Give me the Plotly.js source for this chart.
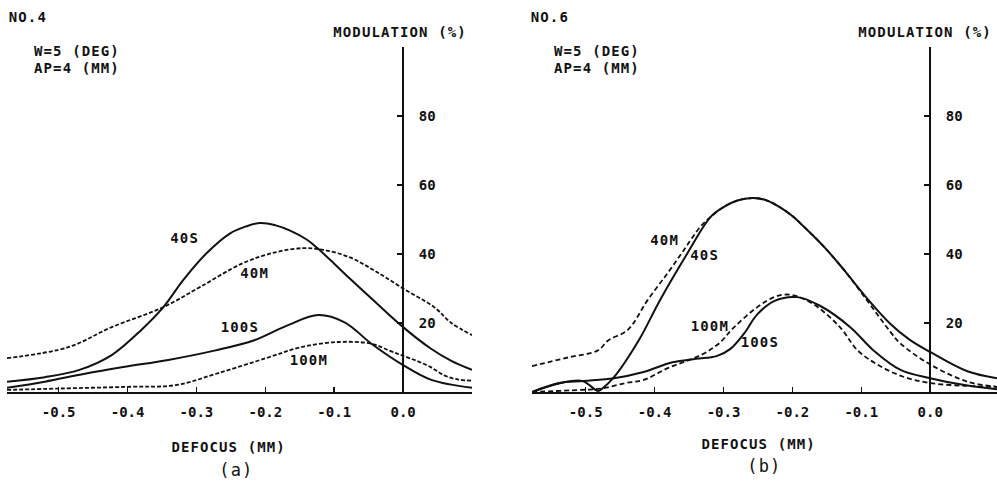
<!DOCTYPE html>
<html>
<head>
<meta charset="utf-8">
<script src="https://cdn.plot.ly/plotly-3.0.1.min.js"></script>
<style>
html,body{margin:0;padding:0;background:#fff;}
#chart{width:997px;height:483px;}
#chart .annotation-text{letter-spacing:1.1px;}
</style>
</head>
<body>
<div id="chart"></div>
<script>
// ---- Data ----
const xTickVals = [-0.5, -0.4, -0.3, -0.2, -0.1, 0.0];
const xTickText = ['-0.5', '-0.4', '-0.3', '-0.2', '-0.1', '0.0'];
const yTickVals = [20, 40, 60, 80];
const yTickText = ['20', '40', '60', '80'];

// Panel (a) NO.4
const a40S_x = [-0.575, -0.52, -0.47, -0.423, -0.38, -0.348, -0.319, -0.285, -0.251, -0.228, -0.207, -0.185, -0.164, -0.14, -0.125, -0.1, -0.077, -0.04, 0, 0.04, 0.07, 0.1];
const a40S_y = [3, 4.3, 6.4, 10.7, 18, 24.6, 32.5, 40.3, 46, 48, 49, 48.3, 46.8, 44.2, 41.8, 37.2, 32.8, 26, 18.8, 12.6, 9, 6.4];
const a40M_x = [-0.575, -0.486, -0.423, -0.348, -0.295, -0.232, -0.183, -0.145, -0.116, -0.077, -0.04, 0, 0.045, 0.07, 0.1];
const a40M_y = [9.8, 13, 18.8, 24.6, 30.4, 37.4, 40.6, 41.7, 41.2, 39, 35, 30, 24.6, 20, 16.5];
const a100S_x = [-0.575, -0.52, -0.462, -0.404, -0.341, -0.274, -0.216, -0.167, -0.123, -0.085, -0.046, 0, 0.041, 0.1];
const a100S_y = [1.2, 3, 5.3, 7.3, 9.3, 12, 15, 19.4, 22.3, 20.2, 14, 7.8, 3.5, 1.2];
const a100M_x = [-0.575, -0.5, -0.4, -0.33, -0.268, -0.196, -0.148, -0.094, -0.046, -0.02, 0, 0.02, 0.04, 0.06, 0.08, 0.1];
const a100M_y = [0.6, 1, 1.5, 2, 5.5, 10, 13, 14.5, 14, 12, 10.5, 9, 7.2, 4.8, 3.6, 3.3];

// Panel (b) NO.6
const b40S_x = [-0.578, -0.54, -0.505, -0.482, -0.476, -0.459, -0.423, -0.392, -0.353, -0.319, -0.3, -0.28, -0.258, -0.24, -0.222, -0.2, -0.189, -0.155, -0.126, -0.097, -0.058, -0.03, 0, 0.054, 0.097];
const b40S_y = [0, 2.4, 3.2, 0.3, 1, 4.3, 15, 26.7, 40, 50.7, 53.6, 55.5, 56.2, 55.7, 54, 51, 49, 42.3, 35.6, 28.4, 19.8, 15.2, 11.6, 6, 4];
const b40M_x = [-0.578, -0.526, -0.483, -0.467, -0.439, -0.41, -0.381, -0.358, -0.334, -0.319, -0.3, -0.28, -0.258, -0.24, -0.222, -0.2, -0.189, -0.155, -0.126, -0.097, -0.058, -0.044, 0, 0.054, 0.097];
const b40M_y = [7.5, 10, 12, 15, 18, 26.7, 34.5, 41, 47.8, 50.7, 53.6, 55.5, 56.2, 55.7, 54, 51, 49, 42.3, 35.6, 28, 17.5, 14.2, 8, 3, 1.5];
const b100S_x = [-0.578, -0.539, -0.503, -0.459, -0.416, -0.374, -0.34, -0.31, -0.29, -0.27, -0.251, -0.225, -0.193, -0.16, -0.116, -0.083, -0.043, 0, 0.05, 0.097];
const b100S_y = [0, 2.6, 3.2, 4, 5.8, 8.6, 9.6, 10.4, 12.5, 17, 22.5, 26.5, 27.5, 25, 18.8, 12.2, 6.4, 4, 2, 0.8];
const b100M_x = [-0.578, -0.52, -0.478, -0.442, -0.416, -0.38, -0.333, -0.307, -0.286, -0.251, -0.225, -0.203, -0.17, -0.131, -0.106, -0.077, -0.04, 0, 0.05, 0.097];
const b100M_y = [0, 0.5, 1, 2.6, 3.5, 7, 10.7, 14, 18.5, 24.6, 27.6, 28.2, 25.5, 18.8, 12.2, 8, 4.5, 2.6, 1.8, 1.5];

// ---- Styling ----
const FONT = 'DejaVu Sans Mono, Liberation Mono, monospace';
const W = 997, H = 483;
const px = v => v / W;
const py = v => 1 - v / H;

function line(x, y, xa, ya, dashed, dashPat) {
  return {
    x: x, y: y, xaxis: xa, yaxis: ya, type: 'scatter', mode: 'lines',
    line: {color: '#111', width: dashed ? 1.8 : 2, dash: dashed ? dashPat : 'solid', shape: 'spline', smoothing: 1},
    hoverinfo: 'skip', showlegend: false, cliponaxis: false
  };
}

const traces = [
  line(a40S_x, a40S_y, 'x', 'y', false),
  line(a40M_x, a40M_y, 'x', 'y', true, '4px,2px'),
  line(a100S_x, a100S_y, 'x', 'y', false),
  line(a100M_x, a100M_y, 'x', 'y', true, '4px,2px'),
  line(b40S_x, b40S_y, 'x2', 'y2', false),
  line(b40M_x, b40M_y, 'x2', 'y2', true, '5px,3px'),
  line(b100S_x, b100S_y, 'x2', 'y2', false),
  line(b100M_x, b100M_y, 'x2', 'y2', true, '5px,3px')
];

const tickFont = {family: FONT, size: 14, color: '#111', weight: 'bold'};
function xAxis(domain, range, anchor) {
  return {
    domain: domain, range: range, anchor: anchor,
    showline: true, linecolor: '#111', linewidth: 2,
    ticks: 'inside', ticklen: 5, tickwidth: 1.5, tickcolor: '#111',
    tickvals: xTickVals, ticktext: xTickText, tickfont: tickFont,
    ticklabelstandoff: 6,
    showgrid: false, zeroline: false, fixedrange: true
  };
}
function yAxis(position) {
  return {
    domain: [py(392), py(47)], range: [0, 100], anchor: 'free', position: position, side: 'right',
    showline: true, linecolor: '#111', linewidth: 2,
    ticks: 'inside', ticklen: 5, tickwidth: 1.5, tickcolor: '#111',
    tickvals: yTickVals, ticktext: yTickText, tickfont: tickFont,
    ticklabelstandoff: 12,
    showgrid: false, zeroline: false, fixedrange: true
  };
}

function txt(text, x, y, xanchor, size, xref, yref) {
  return {text: text, x: x, y: y, xref: xref || 'paper', yref: yref || 'paper',
    xanchor: xanchor || 'left', yanchor: 'middle', showarrow: false,
    font: {family: FONT, size: size || 14, color: '#111', weight: (size && size > 15) ? 'normal' : 'bold'}};
}

const annotations = [
  // panel a
  txt('NO.4', px(9), py(17)),
  txt('MODULATION (%)', px(461), py(32), 'right'),
  txt('W=5 (DEG)', px(37), py(51)),
  txt('AP=4 (MM)', px(37), py(68)),
  txt('DEFOCUS (MM)', px(228), py(447), 'center'),
  txt('(a)', px(236), py(470), 'center', 17),
  txt('40S', -0.318, 44.6, 'center', 14, 'x', 'y'),
  txt('40M', -0.216, 34.5, 'center', 14, 'x', 'y'),
  txt('100S', -0.237, 18.8, 'center', 14, 'x', 'y'),
  txt('100M', -0.136, 9.3, 'center', 14, 'x', 'y'),
  // panel b
  txt('NO.6', px(531), py(17)),
  txt('MODULATION (%)', px(986), py(32), 'right'),
  txt('W=5 (DEG)', px(557), py(51)),
  txt('AP=4 (MM)', px(557), py(68)),
  txt('DEFOCUS (MM)', px(758), py(444), 'center'),
  txt('(b)', px(764), py(466), 'center', 17),
  txt('40M', -0.386, 44, 'center', 14, 'x2', 'y2'),
  txt('40S', -0.328, 39.7, 'center', 14, 'x2', 'y2'),
  txt('100M', -0.319, 19, 'center', 14, 'x2', 'y2'),
  txt('100S', -0.247, 14.5, 'center', 14, 'x2', 'y2')
];

const layout = {
  width: W, height: H, autosize: false,
  margin: {l: 0, r: 0, t: 0, b: 0, pad: 0},
  paper_bgcolor: '#fff', plot_bgcolor: 'rgba(0,0,0,0)',
  showlegend: false,
  xaxis: xAxis([px(7), px(472)], [-0.575, 0.1], 'y'),
  yaxis: yAxis(px(403)),
  xaxis2: xAxis([px(532), px(997)], [-0.578, 0.097], 'y2'),
  yaxis2: yAxis(px(930)),
  annotations: annotations
};

Plotly.newPlot('chart', traces, layout, {staticPlot: true, displayModeBar: false});
</script>
</body>
</html>
